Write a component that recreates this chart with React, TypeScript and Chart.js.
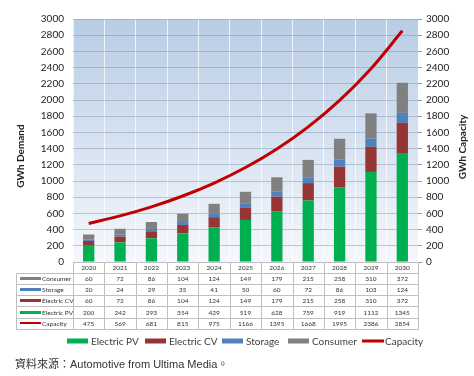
import React, { useEffect, useRef } from "react";
import { Chart, registerables } from "chart.js";

Chart.register(...registerables);

const years = ["2020", "2021", "2022", "2023", "2024", "2025", "2026", "2027", "2028", "2029", "2030"];
const consumer = [60, 72, 86, 104, 124, 149, 179, 215, 258, 310, 372];
const storage = [20, 24, 29, 35, 41, 50, 60, 72, 86, 103, 124];
const electricCV = [60, 72, 86, 104, 124, 149, 179, 215, 258, 310, 372];
const electricPV = [200, 242, 293, 354, 429, 519, 628, 759, 919, 1112, 1345];
const capacity = [475, 569, 681, 815, 975, 1166, 1395, 1668, 1995, 2386, 2854];
const axisMin = 0;
const axisMax = 3000;
const axisStep = 200;

const C_PV = "#00b050";
const C_CV = "#963634";
const C_ST = "#4f81bd";
const C_CO = "#808080";
const C_CAP = "#c00000";

const tableRows = [
  { label: "Consumer", values: consumer, color: C_CO, h: 3 },
  { label: "Storage", values: storage, color: C_ST, h: 3 },
  { label: "Electric CV", values: electricCV, color: C_CV, h: 3 },
  { label: "Electric PV", values: electricPV, color: C_PV, h: 3 },
  { label: "Capacity", values: capacity, color: C_CAP, h: 2 },
];

const legendItems = [
  { label: "Electric PV", color: C_PV, line: false, x: 67 },
  { label: "Electric CV", color: C_CV, line: false, x: 145 },
  { label: "Storage", color: C_ST, line: false, x: 222 },
  { label: "Consumer", color: C_CO, line: false, x: 288 },
  { label: "Capacity", color: C_CAP, line: true, x: 362 },
];

const SMALL_FONT = "Lato, 'Liberation Sans', sans-serif";

const bgPlugin = {
  id: "bgGrad",
  beforeDraw(chart: any) {
    const { ctx, chartArea: a } = chart;
    const g = ctx.createLinearGradient(0, a.top, 0, a.bottom);
    g.addColorStop(0, "#b8cce4");
    g.addColorStop(1, "#f5f8fc");
    ctx.save();
    ctx.fillStyle = g;
    ctx.fillRect(a.left, a.top, a.right - a.left, a.bottom - a.top);
    ctx.restore();
  },
};

const tablePlugin = {
  id: "dataTable",
  afterDraw(chart: any) {
    const { ctx, chartArea: a } = chart;
    const xs = chart.scales.x;
    const n = years.length;
    const centers = years.map((_, i) => xs.getPixelForValue(i));
    const bounds: number[] = [a.left];
    for (let i = 1; i < n; i++) bounds.push((centers[i - 1] + centers[i]) / 2);
    bounds.push(a.right);

    const rowTop = a.bottom + 10.5;
    const rh = 11.3;
    const tableLeft = 16;
    const bottom = rowTop + rh * tableRows.length;

    ctx.save();
    ctx.strokeStyle = "#bfbfbf";
    ctx.lineWidth = 1;
    ctx.beginPath();
    ctx.moveTo(a.left, Math.round(a.bottom) + 0.5);
    ctx.lineTo(a.right, Math.round(a.bottom) + 0.5);
    for (let r = 0; r <= tableRows.length; r++) {
      const y = Math.round(rowTop + r * rh) + 0.5;
      ctx.moveTo(tableLeft, y);
      ctx.lineTo(a.right, y);
    }
    bounds.forEach((bx) => {
      const x = Math.round(bx) + 0.5;
      ctx.moveTo(x, a.bottom);
      ctx.lineTo(x, Math.round(bottom) + 0.5);
    });
    ctx.moveTo(tableLeft + 0.5, Math.round(rowTop) + 0.5);
    ctx.lineTo(tableLeft + 0.5, Math.round(bottom) + 0.5);
    ctx.stroke();

    ctx.textBaseline = "middle";
    ctx.font = `6.5px ${SMALL_FONT}`;
    ctx.fillStyle = "#333";
    tableRows.forEach((row, r) => {
      const cy = rowTop + r * rh + rh / 2;
      ctx.textAlign = "center";
      row.values.forEach((v, i) => ctx.fillText(String(v), centers[i], cy + 0.5));
      ctx.fillStyle = row.color;
      ctx.fillRect(20, Math.round(cy - row.h / 2), 21, row.h);
      ctx.fillStyle = "#333";
      ctx.textAlign = "left";
      ctx.fillText(row.label, 42, cy + 0.5);
    });

    const ly = 341;
    ctx.font = `10px ${SMALL_FONT}`;
    legendItems.forEach((it) => {
      ctx.fillStyle = it.color;
      if (it.line) ctx.fillRect(it.x, ly - 1.5, 22, 3);
      else ctx.fillRect(it.x, ly - 2.5, 21, 5);
      ctx.fillStyle = "#404040";
      ctx.textAlign = "left";
      ctx.fillText(it.label, it.x + (it.line ? 23 : 24), ly + 0.5);
    });

    ctx.font = `bold 10px ${SMALL_FONT}`;
    ctx.fillStyle = "#222";
    ctx.textAlign = "center";
    ctx.save();
    ctx.translate(21, 156);
    ctx.rotate(-Math.PI / 2);
    ctx.fillText("GWh Demand", 0, 0);
    ctx.restore();
    ctx.save();
    ctx.translate(463, 147);
    ctx.rotate(-Math.PI / 2);
    ctx.fillText("GWh Capacity", 0, 0);
    ctx.restore();

    ctx.restore();
  },
};

export default function App() {
  const ref = useRef<HTMLCanvasElement | null>(null);

  useEffect(() => {
    document.body.style.margin = "0";
    const canvas = ref.current;
    if (!canvas) return;
    const barCommon = { barPercentage: 0.36, categoryPercentage: 1, order: 1, yAxisID: "y", borderWidth: 0 };
    const plain = (v: any) => String(v);
    const chart = new Chart(canvas, {
      type: "bar",
      data: {
        labels: years,
        datasets: [
          { label: "Electric PV", data: electricPV, backgroundColor: C_PV, ...barCommon },
          { label: "Electric CV", data: electricCV, backgroundColor: C_CV, ...barCommon },
          { label: "Storage", data: storage, backgroundColor: C_ST, ...barCommon },
          { label: "Consumer", data: consumer, backgroundColor: C_CO, ...barCommon },
          {
            type: "line",
            label: "Capacity",
            data: capacity,
            borderColor: C_CAP,
            backgroundColor: C_CAP,
            borderWidth: 3,
            pointRadius: 0,
            cubicInterpolationMode: "monotone",
            yAxisID: "y1",
            order: 0,
          } as any,
        ],
      },
      options: {
        responsive: false,
        animation: false,
        devicePixelRatio: 1,
        layout: { padding: { top: 19, left: 0, right: 0, bottom: 0 } },
        plugins: { legend: { display: false }, tooltip: { enabled: false } },
        scales: {
          x: {
            stacked: true,
            grid: { color: "rgba(255,255,255,0.75)", drawTicks: false },
            border: { display: false },
            ticks: { font: { size: 6.5, family: SMALL_FONT }, color: "#333", padding: 2, maxRotation: 0 },
            afterFit: (s: any) => {
              s.height = 114;
            },
          },
          y: {
            stacked: true,
            position: "left",
            min: axisMin,
            max: axisMax,
            ticks: { stepSize: axisStep, font: { size: 10, family: SMALL_FONT }, color: "#222", padding: 9, callback: plain },
            grid: { color: "rgba(120,145,180,0.45)", drawTicks: false },
            border: { display: false },
            afterFit: (s: any) => {
              s.width = 73;
            },
          },
          y1: {
            position: "right",
            min: axisMin,
            max: axisMax,
            ticks: { stepSize: axisStep, font: { size: 10, family: SMALL_FONT }, color: "#222", padding: 4, callback: plain },
            grid: { drawOnChartArea: false, drawTicks: true, tickLength: 4, color: "#999" },
            border: { display: false },
            afterFit: (s: any) => {
              s.width = 56;
            },
          },
        },
      },
      plugins: [bgPlugin, tablePlugin],
    } as any);
    return () => chart.destroy();
  }, []);

  return (
    <div style={{ position: "relative", width: 474, height: 376, background: "#fff" }}>
      <canvas ref={ref} width={474} height={376} style={{ display: "block" }} />
      <div
        style={{
          position: "absolute",
          left: 15,
          top: 357,
          fontFamily: "'Liberation Sans', Arial, 'Noto Sans CJK TC', sans-serif",
          fontSize: 11,
          color: "#333",
          whiteSpace: "nowrap",
          lineHeight: "14px",
        }}
      >
        資料來源：Automotive from Ultima Media。
      </div>
    </div>
  );
}
